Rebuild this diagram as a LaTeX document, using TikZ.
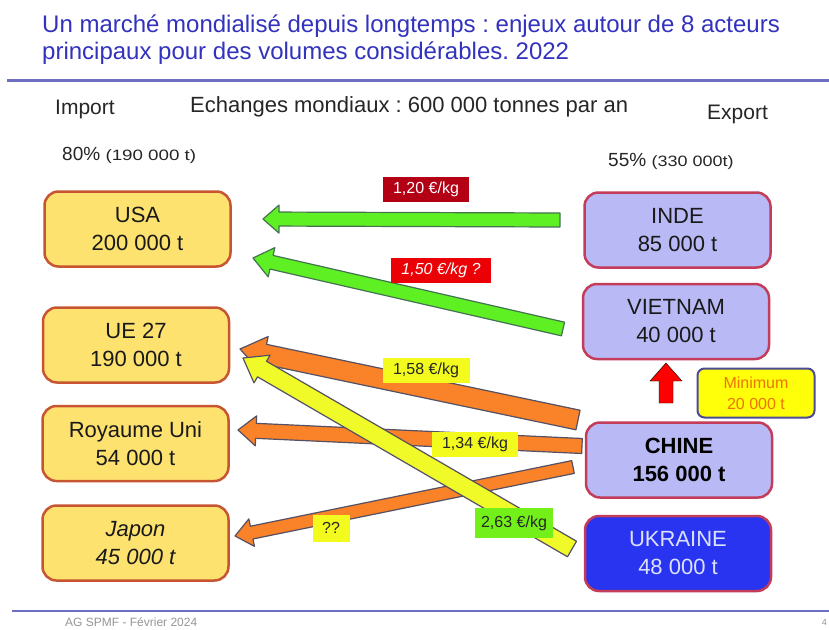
\documentclass[tikz,border=0pt]{standalone}
\usepackage{fontspec}
\setmainfont{Liberation Sans}
\usetikzlibrary{calc}
\frenchspacing
\definecolor{titlec}{RGB}{50,50,190}
\definecolor{sepc}{RGB}{110,110,195}
\definecolor{lfill}{RGB}{253,226,112}
\definecolor{lborder}{RGB}{200,85,50}
\definecolor{rfill}{RGB}{185,186,245}
\definecolor{rborder}{RGB}{195,60,90}
\definecolor{uafill}{RGB}{40,52,240}
\definecolor{uatext}{RGB}{220,225,255}
\definecolor{greenar}{RGB}{95,240,35}
\definecolor{orangear}{RGB}{250,130,40}
\definecolor{yellowar}{RGB}{240,250,40}
\definecolor{arline}{RGB}{85,80,100}
\definecolor{darkred}{RGB}{180,0,20}
\definecolor{brightred}{RGB}{235,0,5}
\definecolor{labyellow}{RGB}{242,250,30}
\definecolor{labgreen}{RGB}{115,240,25}
\definecolor{minfill}{RGB}{255,255,10}
\definecolor{minborder}{RGB}{75,75,150}
\definecolor{mintext}{RGB}{240,115,0}
\definecolor{footc}{RGB}{150,150,150}
\newcommand\fatarrow[6]{%
  \coordinate (#1#2b) at ($(#2)!#5!(#1)$);
  \draw[#6] ($(#1)!#3!90:(#2)$) -- ($(#1#2b)!#3!90:(#2)$) -- ($(#1#2b)!#4!90:(#2)$) -- (#2)
    -- ($(#1#2b)!#4!-90:(#2)$) -- ($(#1#2b)!#3!-90:(#2)$) -- ($(#1)!#3!-90:(#2)$) -- cycle;}
\tikzset{
  lbox/.style={draw=lborder, fill=lfill, line width=2.5pt, rounded corners=14pt,
    minimum width=186pt, minimum height=75pt, align=center, text=black!90,
    font=\fontsize{22}{28}\selectfont},
  rbox/.style={lbox, draw=rborder, fill=rfill},
  price/.style={inner sep=0pt, minimum height=25pt, font=\fontsize{16}{18}\selectfont},
  greenfat/.style={fill=greenar, draw=arline!80!green, line width=1.2pt, line join=round},
  orangefat/.style={fill=orangear, draw=arline, line width=1.2pt, line join=round},
  yellowfat/.style={fill=yellowar, draw=arline, line width=1.2pt, line join=round},
  head/.style={font=\fontsize{21}{24}\selectfont, text=black!85, inner sep=0pt}
}
\begin{document}
\begin{tikzpicture}[x=1pt,y=-1pt]
\useasboundingbox (0,0) rectangle (829,629);
\fill[white] (0,0) rectangle (829,629);
% title
\node[anchor=base west, inner sep=0pt, text=titlec, font=\fontsize{24}{27}\selectfont] (title1) at (42,32)
  {Un marché mondialisé depuis longtemps : enjeux autour de 8 acteurs};
\node[anchor=base west, inner sep=0pt, text=titlec, font=\fontsize{24}{27}\selectfont] (title2) at (42,59)
  {principaux pour des volumes considérables. 2022};
\coordinate (sepL) at (7,80);
\coordinate (sepR) at (829,80);
\draw[sepc, line width=3pt] (sepL) -- (sepR);
% header
\node[head, anchor=base west] (import) at (55,114) {Import};
\node[head, anchor=base west, font=\fontsize{22}{24}\selectfont] (echanges) at (190,112) {Echanges mondiaux : 600 000 tonnes par an};
\node[head, anchor=base west] (export) at (707,119) {Export};
\node[head, anchor=base west, font=\fontsize{19}{22}\selectfont] (imppct) at (62,160)
  {80\% {\fontsize{15}{18}\selectfont\scalebox{1.25}[1]{(190 000 t)}}};
\node[head, anchor=base west, font=\fontsize{19}{22}\selectfont] (exppct) at (608,166)
  {55\% {\fontsize{15}{18}\selectfont\scalebox{1.2}[1]{(330 000t)}}};
% left boxes
\node[lbox] (usa) at (137.5,229) {USA\\200 000 t};
\node[lbox] (ue) at (136,345) {UE 27\\190 000 t};
\node[lbox] (ru) at (135.5,443.5) {Royaume Uni\\54 000 t};
\node[lbox] (jp) at (135.5,543) {\itshape Japon\\\itshape 45 000 t};
% right boxes
\node[rbox] (inde) at (677.5,230) {INDE\\85 000 t};
\node[rbox] (vn) at (676,321.5) {VIETNAM\\40 000 t};
\node[rbox, font=\bfseries\fontsize{22}{28}\selectfont, text=black] (cn) at (679,460) {CHINE\\156 000 t};
\node[rbox, fill=uafill, text=uatext] (ua) at (678,553.5) {UKRAINE\\48 000 t};
% arrow end points
\coordinate (g1t) at (560,220);
\coordinate (g1h) at (263,219);
\coordinate (g2t) at (563,329);
\coordinate (g2h) at (253,258);
\coordinate (o1t) at (578,420);
\coordinate (o1h) at (240,349);
\coordinate (o2t) at (582,446);
\coordinate (o2h) at (238,430);
\coordinate (o3t) at (573,467);
\coordinate (o3h) at (235,536);
\coordinate (y1t) at (572,549);
\coordinate (y1h) at (243,358);
\coordinate (rt) at (666,403);
\coordinate (rh) at (666,363);
% arrows
\fatarrow{g1t}{g1h}{7pt}{14pt}{16pt}{greenfat}
\fatarrow{g2t}{g2h}{7pt}{15pt}{19pt}{greenfat}
\fatarrow{o1t}{o1h}{10pt}{18pt}{25pt}{orangefat}
\fatarrow{o2t}{o2h}{7.5pt}{15pt}{18pt}{orangefat}
\fatarrow{o3t}{o3h}{6.5pt}{14pt}{17pt}{orangefat}
\fatarrow{y1t}{y1h}{9pt}{16pt}{22pt}{yellowfat}
\fatarrow{rt}{rh}{7pt}{16pt}{18pt}{fill=red}
% price labels
\node[price, fill=darkred, text=white, minimum width=86pt] (p120) at (426,189) {1,20 €/kg};
\node[price, fill=brightred, text=white, minimum width=100pt, font=\itshape\fontsize{16}{18}\selectfont] (p150) at (441,270) {1,50 €/kg ?};
\node[price, fill=labyellow, text=black!85, minimum width=87pt] (p158) at (426,370) {1,58 €/kg};
\node[price, fill=labyellow, text=black!85, minimum width=86pt] (p134) at (475,444) {1,34 €/kg};
\node[price, fill=labyellow, text=black!85, minimum width=37pt, minimum height=27pt] (pjp) at (331,528) {??};
\node[price, fill=labgreen, text=black!85, minimum width=78pt, minimum height=30pt] (p263) at (514,523) {2,63 €/kg};
% minimum box
\node[draw=minborder, fill=minfill, line width=2pt, rounded corners=7pt, minimum width=117pt,
  minimum height=49pt, text=mintext, align=center, inner sep=0pt,
  font=\fontsize{16}{21}\selectfont] (minbox) at (756,393) {Minimum\\20 000 t};
% footer
\coordinate (footL) at (12,611);
\coordinate (footR) at (829,611);
\draw[sepc, line width=2pt] (footL) -- (footR);
\node[anchor=base west, inner sep=0pt, text=footc, font=\fontsize{12}{14}\selectfont] (foot) at (65,626) {AG SPMF - Février 2024};
\node[anchor=base east, inner sep=0pt, text=footc, font=\fontsize{9}{10}\selectfont] (pnum) at (827,625) {4};
\end{tikzpicture}
\end{document}
